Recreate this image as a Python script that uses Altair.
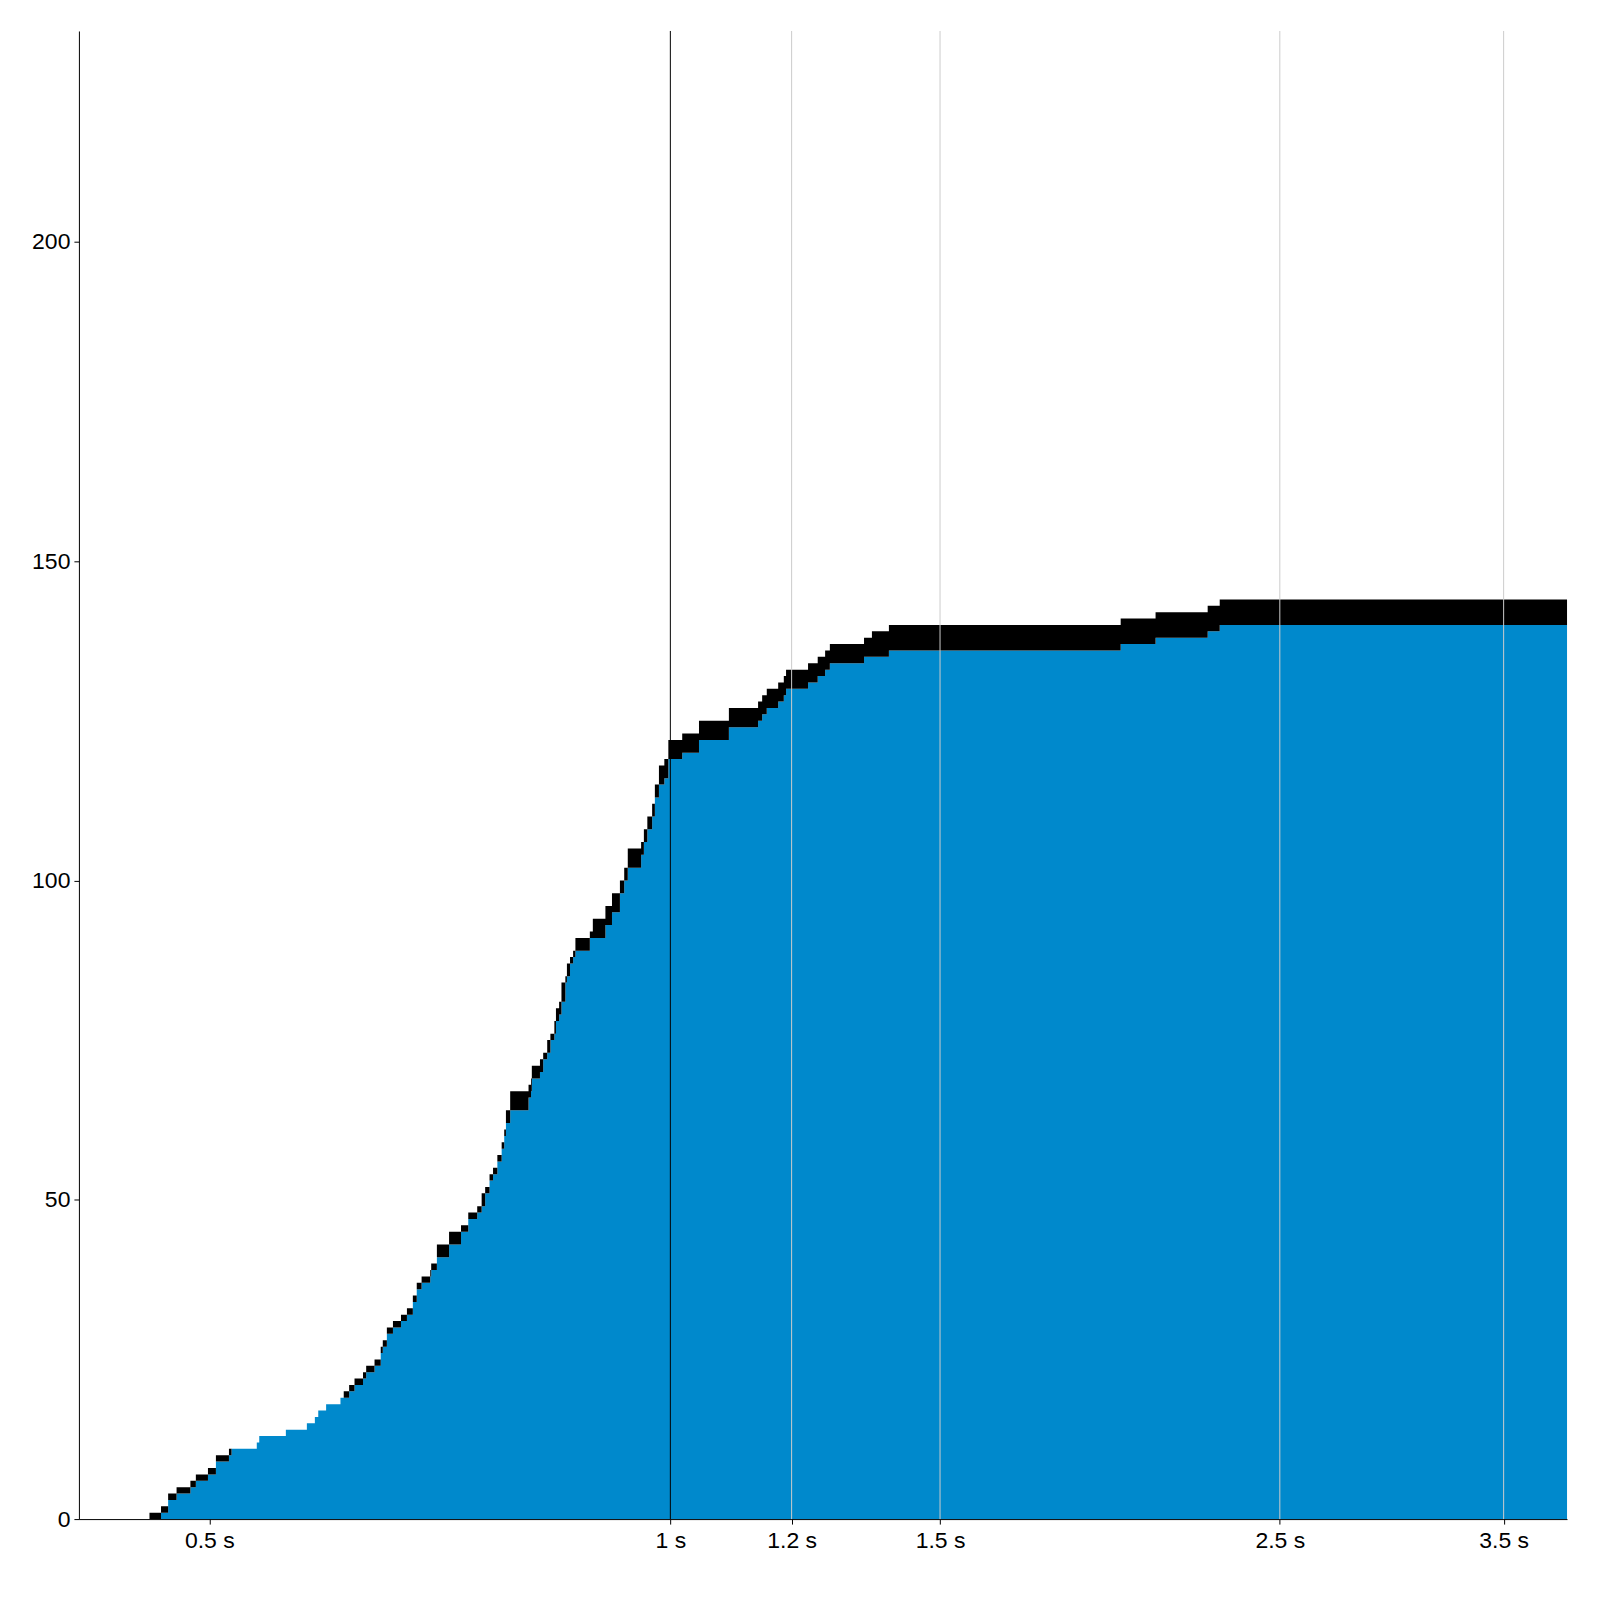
import altair as alt
import pandas as pd

# Step breakpoints (time in seconds, log x-axis)
t_sec = [0.457, 0.465, 0.470, 0.476, 0.486, 0.490, 0.499, 0.505, 0.515, 0.517,
         0.537, 0.539, 0.561, 0.579, 0.586, 0.589, 0.596, 0.609, 0.612, 0.617,
         0.622, 0.630, 0.633, 0.641, 0.647, 0.649, 0.653, 0.659, 0.667, 0.673,
         0.679, 0.683, 0.688, 0.697, 0.698, 0.704, 0.717, 0.730, 0.738, 0.748,
         0.753, 0.757, 0.762, 0.766, 0.771, 0.776, 0.779, 0.781, 0.786, 0.808,
         0.811, 0.812, 0.822, 0.826, 0.831, 0.835, 0.840, 0.842, 0.846, 0.849,
         0.854, 0.856, 0.860, 0.864, 0.867, 0.886, 0.890, 0.907, 0.916, 0.927,
         0.933, 0.938, 0.957, 0.961, 0.966, 0.973, 0.977, 0.983, 0.991, 0.997,
         1.018, 1.044, 1.092, 1.141, 1.148, 1.156, 1.176, 1.186, 1.190, 1.230,
         1.248, 1.262, 1.271, 1.338, 1.354, 1.389, 1.968, 2.074, 2.243, 2.284,
         3.85]

# Top edge (blue + black)
total_count = [1, 2, 4, 5, 6, 7, 8, 10, 11, 11,
               12, 13, 14, 15, 16, 17, 18, 19, 20, 21,
               22, 23, 24, 25, 27, 28, 30, 31, 32, 33,
               35, 37, 38, 39, 40, 43, 45, 46, 48, 49,
               51, 52, 54, 55, 57, 59, 61, 64, 67, 68,
               69, 71, 72, 73, 75, 76, 78, 80, 81, 84,
               85, 87, 88, 89, 91, 92, 94, 96, 98, 100,
               102, 105, 106, 108, 110, 112, 115, 118, 119, 122,
               123, 125, 127, 128, 129, 130, 131, 132, 133, 134,
               135, 136, 137, 138, 139, 140, 141, 142, 143, 144,
               144]

# Blue (lower) series
done_count = [0, 1, 3, 4, 5, 6, 7, 9, 10, 11,
              12, 13, 14, 15, 16, 17, 18, 19, 19, 20,
              21, 22, 23, 24, 26, 27, 29, 30, 31, 32,
              34, 36, 37, 38, 39, 41, 43, 45, 47, 48,
              49, 51, 53, 54, 56, 58, 60, 62, 64, 66,
              67, 69, 70, 72, 73, 75, 76, 78, 79, 81,
              84, 85, 87, 88, 89, 91, 91, 93, 95, 98,
              100, 102, 104, 106, 108, 110, 113, 115, 116, 119,
              120, 122, 124, 125, 126, 127, 128, 129, 130, 131,
              132, 133, 134, 135, 135, 136, 137, 138, 139, 140,
              140]

tick_values = [0.5, 1, 1.2, 1.5, 2.5, 3.5]
grid_values = [1, 1.2, 1.5, 2.5, 3.5]
y_ticks = [0, 50, 100, 150, 200]

assert len(t_sec) == len(total_count) == len(done_count)

df = pd.DataFrame({"t": t_sec, "total": total_count, "done": done_count})
grid_df = pd.DataFrame({"tick": grid_values})

FONT = "Liberation Sans"
x_scale = alt.Scale(type="log", domain=[0.411, 3.85], nice=False)
y_scale = alt.Scale(domain=[0, 233], nice=False, zero=True)

x_axis = alt.Axis(
    title=None, values=tick_values, labelExpr="datum.value + ' s'",
    grid=False, tickSize=5, labelPadding=5, labelFlush=False, labelOverlap=False,
    labelFont=FONT, labelFontSize=23, labelColor="black",
    domainColor="black", tickColor="black",
)
y_axis = alt.Axis(
    title=None, values=y_ticks, grid=False, tickSize=5, labelPadding=4,
    labelFlush=False, labelOverlap=False,
    labelFont=FONT, labelFontSize=23, labelColor="black",
    domainColor="black", tickColor="black",
)

blue = alt.Chart(df).mark_area(interpolate="step-after", color="#0089cc").encode(
    x=alt.X("t:Q", scale=x_scale, axis=x_axis),
    y=alt.Y("done:Q", scale=y_scale, axis=y_axis),
)

black = alt.Chart(df).mark_area(interpolate="step-after", color="black").encode(
    x=alt.X("t:Q", scale=x_scale),
    y=alt.Y("done:Q", scale=y_scale),
    y2="total:Q",
)

rules = alt.Chart(grid_df).mark_rule(strokeWidth=1).encode(
    x=alt.X("tick:Q", scale=x_scale),
    color=alt.condition("datum.tick == 1", alt.value("black"), alt.value("#cccccc")),
)

chart = alt.layer(blue, black, rules).properties(
    width=1490, height=1490,
    autosize=alt.AutoSizeParams(type="none"),
    padding={"left": 71, "top": 22, "right": 25, "bottom": 70},
    background="white",
).configure_view(strokeWidth=0)

chart.save("out.html", embed_options={"renderer": "svg", "actions": False})
